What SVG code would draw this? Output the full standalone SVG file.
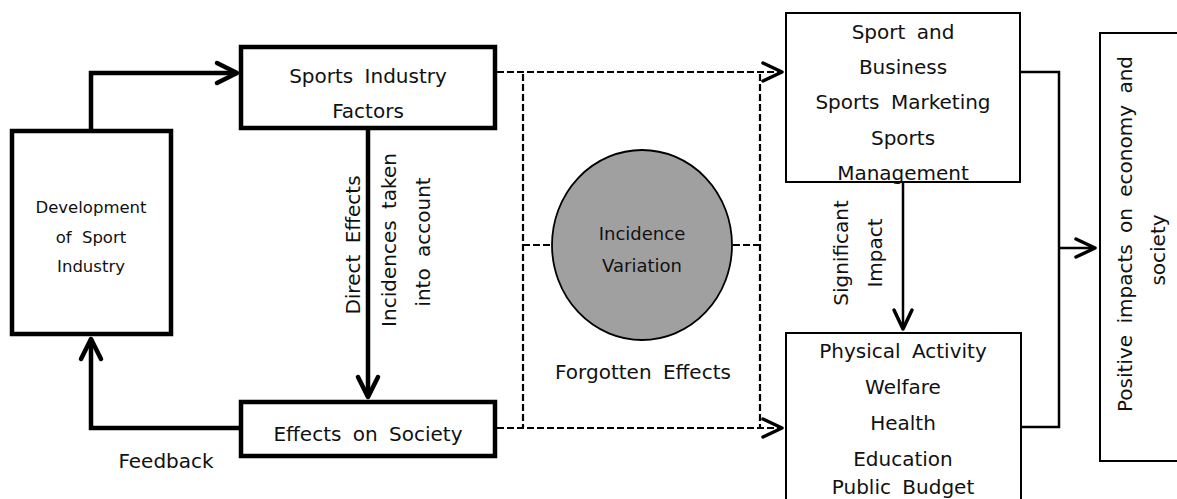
<svg xmlns="http://www.w3.org/2000/svg" width="1177" height="499" viewBox="0 0 1177 499">
  <style>
    text { font-family: "DejaVu Sans", "Liberation Sans", sans-serif; fill: #111; text-anchor: middle; word-spacing: 5px; }
    .t20 { font-size: 20px; }
    .t18 { font-size: 18px; }
    .t16 { font-size: 16.5px; }
    .box-thick { fill: #fff; stroke: #000; stroke-width: 4.5; }
    .box-thin { fill: #fff; stroke: #000; stroke-width: 2; }
    .line-thick { fill: none; stroke: #000; stroke-width: 4.5; }
    .line-thin { fill: none; stroke: #000; stroke-width: 2.5; }
    .line-dash { fill: none; stroke: #000; stroke-width: 2.2; stroke-dasharray: 7 3; }
  </style>
  <defs>
    <marker id="chev-thick" markerUnits="userSpaceOnUse" viewBox="-30 -16 34 32" refX="0" refY="0" markerWidth="34" markerHeight="32" orient="auto" overflow="visible">
      <path d="M-20,-10 L0,0 L-20,10" fill="none" stroke="#000" stroke-width="4.5" stroke-linecap="round" stroke-linejoin="round"/>
    </marker>
    <marker id="chev-thin" markerUnits="userSpaceOnUse" viewBox="-30 -16 34 32" refX="0" refY="0" markerWidth="34" markerHeight="32" orient="auto" overflow="visible">
      <path d="M-19,-9 L0,0 L-19,9" fill="none" stroke="#000" stroke-width="3.5" stroke-linecap="round" stroke-linejoin="round"/>
    </marker>
  </defs>

  <rect width="1177" height="499" fill="#fff"/>

  <!-- connectors -->
  <g id="connectors">
    <!-- development -> sports industry factors -->
    <path class="line-thick" d="M91,129 V73 H237" marker-end="url(#chev-thick)"/>
    <!-- factors -> effects on society (direct effects) -->
    <path class="line-thick" d="M368,130 V397" marker-end="url(#chev-thick)"/>
    <!-- feedback loop -->
    <path class="line-thick" d="M239,428 H91 V339" marker-end="url(#chev-thick)"/>
    <!-- dashed links through forgotten effects frame -->
    <path class="line-dash" d="M497,72 H782" marker-end="url(#chev-thin)"/>
    <path class="line-dash" d="M497,428 H782" marker-end="url(#chev-thin)"/>
    <path class="line-dash" d="M523,74 V428" stroke-dasharray="5 3"/>
    <path class="line-dash" d="M760,74 V428" stroke-dasharray="5 3"/>
    <path class="line-dash" d="M523,245 H552"/>
    <path class="line-dash" d="M733,245 H760"/>
    <!-- significant impact -->
    <path class="line-thin" d="M903,183 V329" marker-end="url(#chev-thin)"/>
    <!-- merge into positive impacts -->
    <path class="line-thin" d="M1021,72 H1059 V427 H1021"/>
    <path class="line-thin" d="M1059,248 H1095" marker-end="url(#chev-thin)"/>
  </g>

  <g id="development">
    <rect class="box-thick" x="12" y="131" width="159" height="203"/>
    <text class="t16" x="91" y="213">Development</text>
    <text class="t16" x="91" y="243">of Sport</text>
    <text class="t16" x="91" y="272">Industry</text>
  </g>

  <g id="sports-industry-factors">
    <rect class="box-thick" x="241" y="47" width="254" height="81"/>
    <text class="t20" x="368" y="83">Sports Industry</text>
    <text class="t20" x="368" y="118">Factors</text>
  </g>

  <g id="effects-on-society">
    <rect class="box-thick" x="241" y="402" width="254" height="54"/>
    <text class="t20" x="368" y="441">Effects on Society</text>
  </g>

  <g id="labels-left">
    <text class="t20" transform="translate(360,245) rotate(-90)">Direct Effects</text>
    <text class="t20" transform="translate(396,240) rotate(-90)">Incidences taken</text>
    <text class="t20" transform="translate(430,242) rotate(-90)">into account</text>
    <text class="t20" x="166" y="468">Feedback</text>
  </g>

  <g id="incidence-variation">
    <ellipse cx="642" cy="245" rx="90" ry="95" fill="#a0a0a0" stroke="#000" stroke-width="1.8"/>
    <text class="t18" x="642" y="240">Incidence</text>
    <text class="t18" x="642" y="272">Variation</text>
  </g>

  <g id="forgotten-effects">
    <text class="t20" x="643" y="379">Forgotten Effects</text>
  </g>

  <g id="sport-business">
    <rect class="box-thin" x="786" y="13" width="234" height="169"/>
    <text class="t20" x="903" y="39">Sport and</text>
    <text class="t20" x="903" y="74">Business</text>
    <text class="t20" x="903" y="109">Sports Marketing</text>
    <text class="t20" x="903" y="145">Sports</text>
    <text class="t20" x="903" y="180">Management</text>
  </g>

  <g id="significant-impact">
    <text class="t20" transform="translate(848,253) rotate(-90)">Significant</text>
    <text class="t20" transform="translate(882,253) rotate(-90)">Impact</text>
  </g>

  <g id="social-outcomes">
    <rect class="box-thin" x="786" y="333" width="235" height="200"/>
    <text class="t20" x="903" y="358">Physical Activity</text>
    <text class="t20" x="903" y="394">Welfare</text>
    <text class="t20" x="903" y="430">Health</text>
    <text class="t20" x="903" y="466">Education</text>
    <text class="t20" x="903" y="494">Public Budget</text>
  </g>

  <g id="positive-impacts">
    <rect class="box-thin" x="1100" y="33" width="100" height="428"/>
    <text class="t20" transform="translate(1132,234) rotate(-90)">Positive impacts on economy and</text>
    <text class="t20" transform="translate(1165,250) rotate(-90)">society</text>
  </g>
</svg>
